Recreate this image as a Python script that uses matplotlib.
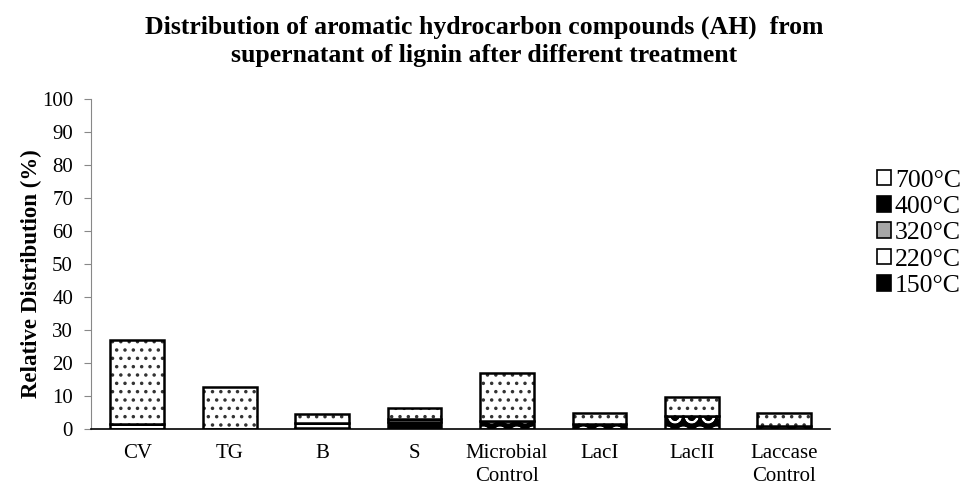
import matplotlib
matplotlib.use("Agg")
import matplotlib.pyplot as plt
from matplotlib.patches import Patch
import numpy as np

plt.rcParams['font.family'] = ['Liberation Serif', 'DejaVu Serif']
plt.rcParams['hatch.linewidth'] = 1.3

categories = ["CV", "TG", "B", "S", "Microbial\nControl", "LacI", "LacII", "Laccase\nControl"]
s150 = [0.0, 0.0, 0.3, 2.2, 0.0, 0.0, 0.0, 0.0]
s220 = [1.5, 0.0, 1.4, 0.7, 0.0, 0.0, 0.0, 0.0]
s320 = [0.0, 0.0, 0.0, 0.0, 0.0, 0.0, 0.0, 0.0]
s400 = [0.0, 0.0, 0.0, 0.0, 2.4, 1.4, 3.9, 0.8]
s700 = [25.5, 12.7, 2.8, 3.3, 14.7, 3.5, 5.9, 3.9]

series = [
    ("150°C", s150, "black", None, None),
    ("220°C", s220, "white", None, None),
    ("320°C", s320, "#a6a6a6", None, None),
    ("400°C", s400, "black", "O", "white"),
    ("700°C", s700, "white", "..", "#333333"),
]

fig = plt.figure(figsize=(9.69, 4.88), dpi=100)
ax = fig.add_axes([0.094, 0.121, 0.763, 0.676])

x = np.arange(len(categories))
width = 0.58
bottom = np.zeros(len(categories))
handles = []
for name, vals, fc, hatch, hc in series:
    vals = np.array(vals)
    if hatch:
        ax.bar(x, vals, width, bottom=bottom, color=fc, hatch=hatch,
               edgecolor=hc, linewidth=0)
    ax.bar(x, vals, width, bottom=bottom, color=fc if not hatch else "none",
           edgecolor="black", linewidth=1.8)
    bottom += vals
    handles.append(Patch(facecolor=fc, edgecolor="black", linewidth=1.2))

ax.set_xlim(-0.5, len(categories) - 0.5)
ax.set_ylim(0, 100)
ax.set_yticks(range(0, 101, 10))
ax.set_xticks(x)
ax.set_xticklabels(categories, fontsize=15, linespacing=1.25)
ax.tick_params(axis='y', labelsize=15, length=5, color="#888888", pad=8)
ax.tick_params(axis='x', length=0, pad=11)
for sp in ["top", "right"]:
    ax.spines[sp].set_visible(False)
ax.spines["left"].set_color("#888888")
ax.spines["bottom"].set_color("black")
ax.spines["bottom"].set_linewidth(1.2)
ax.set_ylabel("Relative Distribution (%)", fontsize=16.5, fontweight="bold", labelpad=10)
ax.yaxis.set_label_coords(-0.066, 0.47)

fig.text(0.5, 0.968, "Distribution of aromatic hydrocarbon compounds (AH)  from\nsupernatant of lignin after different treatment",
         fontsize=18.5, fontweight="bold", ha="center", va="top", linespacing=1.3)

fig.legend(handles[::-1], [s[0] for s in series][::-1], loc="center left",
           bbox_to_anchor=(0.905, 0.522), frameon=False, fontsize=18.5,
           handlelength=0.55, handleheight=0.55, handletextpad=0.15,
           labelspacing=0.17, borderpad=0, borderaxespad=0)

fig.savefig("out.png", dpi=100)
